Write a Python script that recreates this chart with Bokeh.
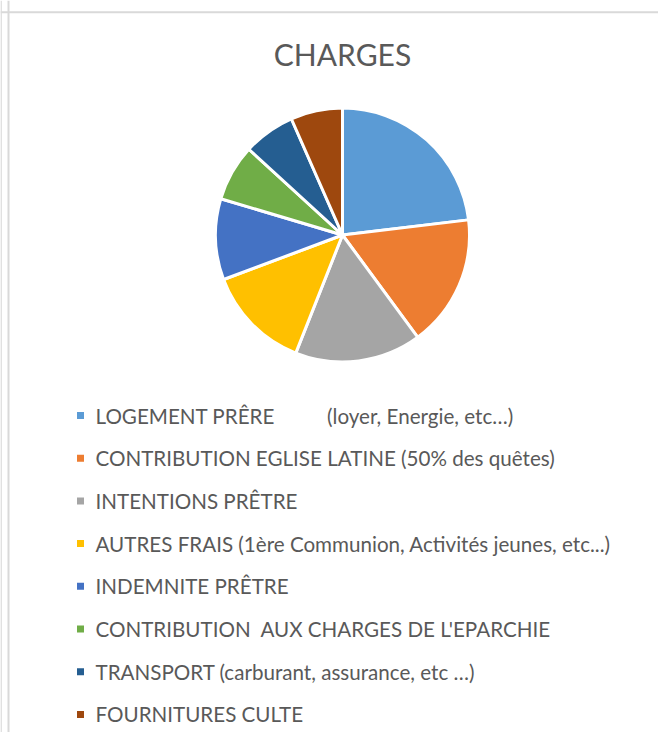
import re
import numpy as np
from bokeh.plotting import figure
from bokeh.models import Range1d, ColumnDataSource, Span
from bokeh.core.properties import value
from bokeh.embed import file_html
from bokeh.resources import INLINE

# ---- data ----
categories = [
    "LOGEMENT PRÊRE          (loyer, Energie, etc…)",
    "CONTRIBUTION EGLISE LATINE (50% des quêtes)",
    "INTENTIONS PRÊTRE",
    "AUTRES FRAIS (1ère Communion, Activités jeunes, etc...)",
    "INDEMNITE PRÊTRE",
    "CONTRIBUTION  AUX CHARGES DE L'EPARCHIE",
    "TRANSPORT (carburant, assurance, etc …)",
    "FOURNITURES CULTE",
]
shares = [23.1, 16.8, 16.1, 13.3, 10.3, 7.2, 6.6, 6.6]
colors = ["#5B9BD5", "#ED7D31", "#A5A5A5", "#FFC000",
          "#4472C4", "#70AD47", "#255E91", "#9E480E"]
title_text = "CHARGES"


def keep_spaces(s):
    # SVG collapses runs of spaces; keep them with non-breaking spaces
    return re.sub(r" {2,}", lambda m: " " + "\u00a0" * (len(m.group(0)) - 1), s)


labels = [keep_spaces(c) for c in categories]

# ---- layout (pixel-like data space) ----
W, H = 658, 732
p = figure(width=W, height=H, output_backend="svg", toolbar_location=None,
           x_range=Range1d(0, W), y_range=Range1d(0, H),
           min_border=0, min_border_left=0, min_border_right=0,
           min_border_top=0, min_border_bottom=0)
p.axis.visible = False
p.grid.visible = False
p.outline_line_color = None
p.background_fill_color = "white"
p.border_fill_color = "white"

# chart box border (top and left edges visible)
p.add_layout(Span(location=H - 11.8, dimension="width", line_color="#d9d9d9", line_width=2))
p.add_layout(Span(location=8, dimension="height", line_color="#d9d9d9", line_width=2))
p.add_layout(Span(location=0.6, dimension="height", line_color="#dcdcdc", line_width=1.5))

# title
p.text(x=[342], y=[H - 53], text=[title_text], text_align="center",
       text_baseline="middle", text_font=value("Lato"), text_font_size="30px",
       text_color="#595959")

# pie
vals = np.array(shares, dtype=float)
frac = vals / vals.sum()
cum = np.concatenate([[0.0], np.cumsum(frac)])
start = np.pi / 2 - 2 * np.pi * cum[1:]
end = np.pi / 2 - 2 * np.pi * cum[:-1]
src = ColumnDataSource(dict(start=start, end=end, color=colors, cat=categories))
p.wedge(x=342, y=H - 234.5, radius=127, start_angle="start", end_angle="end",
        direction="anticlock", fill_color="color", line_color="white",
        line_width=3, source=src)

# legend
row0 = H - 415
step = 42.7
ly = [row0 - i * step for i in range(len(categories))]
lsrc = ColumnDataSource(dict(y=ly, color=colors, cat=labels))
p.rect(x=80, y="y", width=7, height=7, fill_color="color", line_color=None, source=lsrc)
p.text(x=95, y="y", text="cat", text_baseline="middle", text_align="left",
       text_font=value("Lato"), text_font_size="20.6px", text_color="#595959", source=lsrc)

open("out.html", "w").write(file_html(p, INLINE))
